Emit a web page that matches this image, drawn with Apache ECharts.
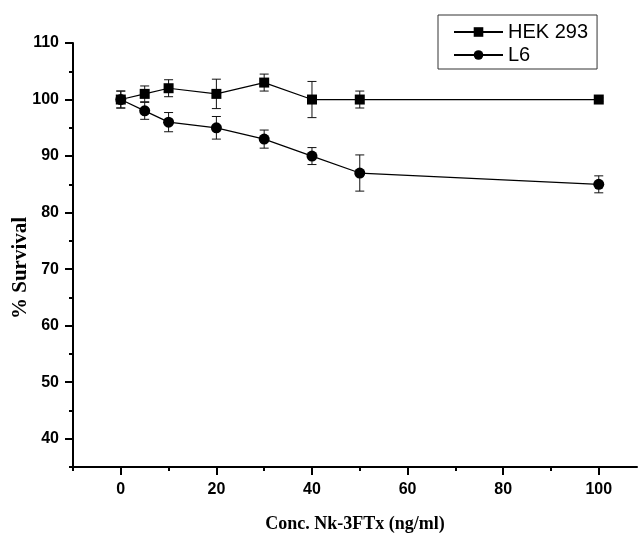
<!DOCTYPE html>
<html>
<head>
<meta charset="utf-8">
<script src="https://cdn.jsdelivr.net/npm/echarts@6/dist/echarts.min.js"></script>
<style>
html,body{margin:0;padding:0;background:#fff;}
#c{width:638px;height:536px;}
</style>
</head>
<body>
<div id="c"></div>
<script>
// ---- data ----
const concHEK = [0, 5, 10, 20, 30, 40, 50, 100];
const hekValues = [100, 101, 102, 101, 103, 100, 100, 100];
const hekErrors = [1.5, 1.4, 1.5, 2.6, 1.5, 3.2, 1.5, 0.3];
const concL6 = [0, 5, 10, 20, 30, 40, 50, 100];
const l6Values = [100, 98, 96, 95, 93, 90, 87, 85];
const l6Errors = [1.5, 1.5, 1.7, 2.0, 1.6, 1.5, 3.2, 1.5];
const xMajorTicks = [0, 20, 40, 60, 80, 100];
const xMinorTicks = [-10, 10, 30, 50, 70, 90];
const yMajorTicks = [40, 50, 60, 70, 80, 90, 100, 110];
const yMinorTicks = [35, 45, 55, 65, 75, 85, 95, 105];

const chart = echarts.init(document.getElementById('c'), null, {renderer: 'canvas'});

function pts(xs, ys) { return xs.map((x, i) => [x, ys[i]]); }
function errData(xs, ys, es) { return xs.map((x, i) => [x, ys[i] - es[i], ys[i] + es[i]]); }

function errSeries(name, data) {
  return {
    type: 'custom',
    name: name + ' err',
    xAxisIndex: 0, yAxisIndex: 0,
    silent: true,
    z: 1,
    data: data,
    renderItem: function (params, api) {
      const x = api.value(0);
      const lo = api.coord([x, api.value(1)]);
      const hi = api.coord([x, api.value(2)]);
      const hw = 4.5;
      const st = {stroke: '#111', lineWidth: 1, fill: null};
      return {
        type: 'group',
        children: [
          {type: 'line', shape: {x1: lo[0], y1: lo[1], x2: hi[0], y2: hi[1]}, style: st},
          {type: 'line', shape: {x1: lo[0] - hw, y1: lo[1], x2: lo[0] + hw, y2: lo[1]}, style: st},
          {type: 'line', shape: {x1: hi[0] - hw, y1: hi[1], x2: hi[0] + hw, y2: hi[1]}, style: st}
        ]
      };
    }
  };
}

const tickLabelStyle = {fontFamily: 'Liberation Sans, Arial', fontWeight: 'bold', fontSize: 16, color: '#000'};
const axisRange = {x: -10, x2: 108, y: 35, y2: 110};

const option = {
  backgroundColor: '#fff',
  animation: false,
  grid: {left: 73, right: 1, top: 43, bottom: 69, containLabel: false, outerBoundsMode: 'none'},
  legend: {
    orient: 'vertical',
    left: 438, top: 15,
    padding: [7, 9, 4, 15],
    itemGap: 3,
    itemWidth: 49, itemHeight: 12,
    borderColor: '#333', borderWidth: 1,
    textStyle: {fontFamily: 'Liberation Sans, Arial', fontSize: 20, color: '#000'},
    data: ['HEK 293', 'L6']
  },
  xAxis: [
    {
      type: 'value', min: axisRange.x, max: axisRange.x2, position: 'bottom',
      name: 'Conc. Nk-3FTx (ng/ml)', nameLocation: 'middle', nameGap: 48, nameMoveOverlap: false,
      nameTextStyle: {fontFamily: 'Liberation Serif, Times New Roman', fontWeight: 'bold', fontSize: 18, color: '#000'},
      axisLine: {show: true, onZero: false, lineStyle: {color: '#000', width: 2}},
      axisTick: {show: true, customValues: xMajorTicks, length: 8, lineStyle: {color: '#000', width: 2}},
      axisLabel: {show: true, customValues: xMajorTicks, margin: 15, ...tickLabelStyle},
      splitLine: {show: false}
    },
    {
      type: 'value', min: axisRange.x, max: axisRange.x2, position: 'bottom', offset: 0,
      axisLine: {show: false, onZero: false},
      axisTick: {show: true, customValues: xMinorTicks, length: 4, lineStyle: {color: '#000', width: 2}},
      axisLabel: {show: false},
      splitLine: {show: false}
    }
  ],
  yAxis: [
    {
      type: 'value', min: axisRange.y, max: axisRange.y2, position: 'left',
      name: '% Survival', nameLocation: 'middle', nameGap: 42, nameRotate: 90, nameMoveOverlap: false,
      nameTextStyle: {fontFamily: 'Liberation Serif, Times New Roman', fontWeight: 'bold', fontSize: 21, color: '#000', padding: [0, 26, 0, 0]},
      axisLine: {show: true, onZero: false, lineStyle: {color: '#000', width: 2}},
      axisTick: {show: true, customValues: yMajorTicks, length: 8, lineStyle: {color: '#000', width: 2}},
      axisLabel: {show: true, customValues: yMajorTicks, margin: 14, ...tickLabelStyle},
      splitLine: {show: false}
    },
    {
      type: 'value', min: axisRange.y, max: axisRange.y2, position: 'left', offset: 0,
      axisLine: {show: false, onZero: false},
      axisTick: {show: true, customValues: yMinorTicks, length: 4, lineStyle: {color: '#000', width: 2}},
      axisLabel: {show: false},
      splitLine: {show: false}
    }
  ],
  series: [
    errSeries('HEK 293', errData(concHEK, hekValues, hekErrors)),
    errSeries('L6', errData(concL6, l6Values, l6Errors)),
    {
      type: 'line', name: 'HEK 293', xAxisIndex: 0, yAxisIndex: 0, z: 3,
      data: pts(concHEK, hekValues),
      symbol: 'rect', symbolSize: 10,
      lineStyle: {color: '#000', width: 1.2},
      itemStyle: {color: '#000'}
    },
    {
      type: 'line', name: 'L6', xAxisIndex: 0, yAxisIndex: 0, z: 3,
      data: pts(concL6, l6Values),
      symbol: 'circle', symbolSize: 11,
      lineStyle: {color: '#000', width: 1.2},
      itemStyle: {color: '#000'}
    }
  ]
};
chart.setOption(option);
</script>
</body>
</html>
